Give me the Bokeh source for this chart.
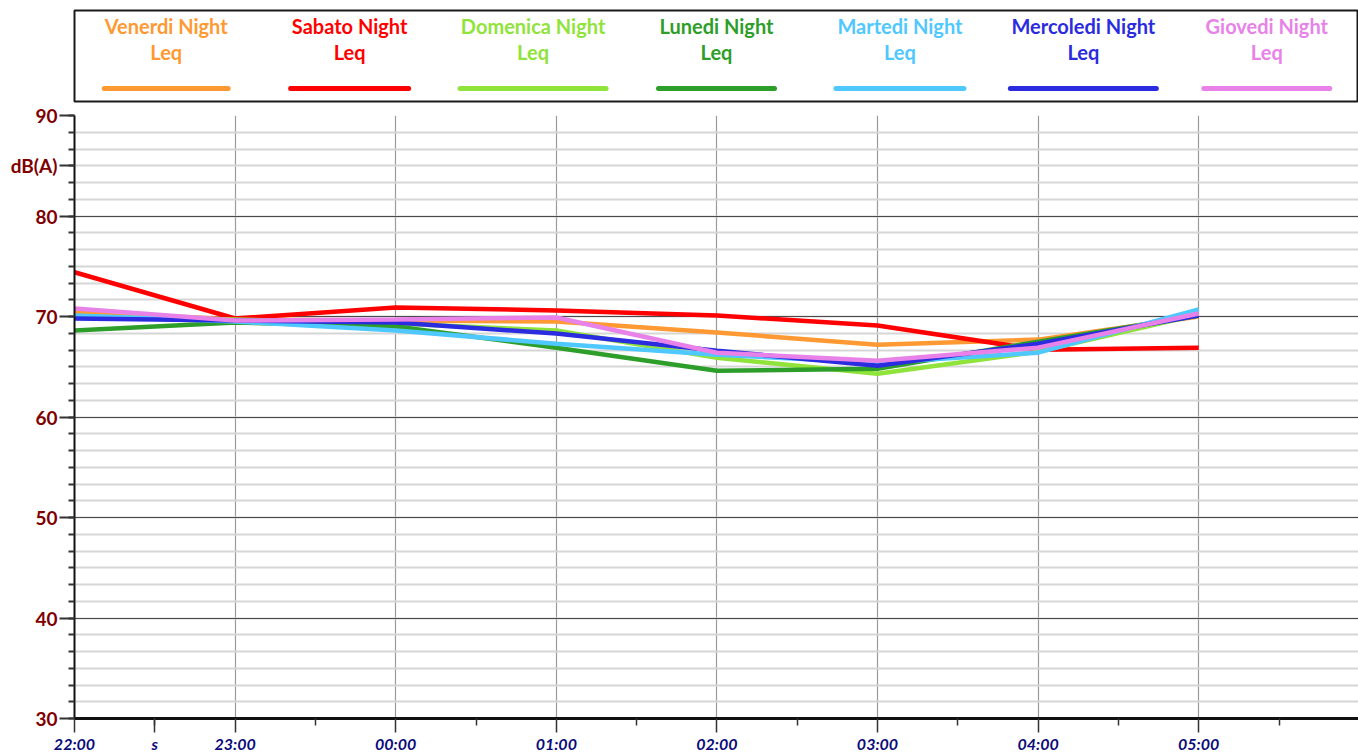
from bokeh.plotting import figure
from bokeh.models import Range1d, FixedTicker, ColumnDataSource
from bokeh.layouts import column
from bokeh.core.properties import value
from bokeh.embed import file_html
from bokeh.resources import INLINE

# ---------------- data ----------------
hours = [0, 1, 2, 3, 4, 5, 6, 7]
hour_labels = ["22:00", "23:00", "00:00", "01:00", "02:00", "03:00", "04:00", "05:00"]

series_line1 = ["Venerdi Night", "Sabato Night", "Domenica Night", "Lunedi Night",
                "Martedi Night", "Mercoledi Night", "Giovedi Night"]
series_line2 = ["Leq"] * 7

venerdi = [70.5, 69.7, 69.6, 69.5, 68.4, 67.2, 67.7, 70.0]
sabato = [74.4, 69.8, 70.9, 70.6, 70.1, 69.1, 66.7, 66.9]
domenica = [70.0, 69.7, 69.3, 68.6, 65.9, 64.3, 66.5, 70.2]
lunedi = [68.6, 69.4, 69.0, 66.9, 64.6, 64.8, 67.5, 70.1]
martedi = [70.1, 69.5, 68.6, 67.3, 66.2, 65.4, 66.4, 70.7]
mercoledi = [69.8, 69.6, 69.4, 68.3, 66.6, 65.1, 67.3, 70.1]
giovedi = [70.8, 69.6, 69.7, 69.9, 66.4, 65.6, 66.9, 70.3]

y_major = [30, 40, 50, 60, 70, 80, 90]
y_unit_pos = 85
y_unit_label = "dB(A)"
minor_x_pos = 0.5
minor_x_label = "s"

# ---------------- styles ----------------
colors = ["#ff9933", "#ff0000", "#8fe33a", "#2e9e2a", "#4fc8ff", "#2b2be0", "#e882e8"]
series = [venerdi, sabato, domenica, lunedi, martedi, mercoledi, giovedi]
legend_half_px = [62, 59, 73, 58, 64, 73, 63]

FONT_NAME = "Lato"
FONT = value(FONT_NAME)
W = 1358
LEFT = 74
FRAME_W = W - LEFT
PX_PER_HOUR = 160.6
SLOT_PX = FRAME_W / 7

# ---------------- legend figure ----------------
leg = figure(width=W, height=103, x_range=Range1d(0, 7),
             y_range=Range1d(91, 0), output_backend="svg", toolbar_location=None,
             min_border_left=LEFT, min_border_right=0, min_border_top=10,
             min_border_bottom=2)
leg.axis.visible = False
leg.grid.visible = False
leg.outline_line_color = "#1a1a1a"
leg.outline_line_width = 2
leg.background_fill_color = "white"
leg.border_fill_color = "white"

centers = [i + 0.5 for i in range(len(series_line1))]
halves = [h / SLOT_PX for h in legend_half_px]
lsrc = ColumnDataSource(dict(
    x=centers, t1=series_line1, t2=series_line2, c=colors,
    x0=[c - h for c, h in zip(centers, halves)],
    x1=[c + h for c, h in zip(centers, halves)],
    y1=[15] * 7, y2=[41] * 7, yl=[78] * 7))
for col in ("y1", "y2"):
    leg.text(x="x", y=col, text="t1" if col == "y1" else "t2", text_color="c",
             source=lsrc, text_font=FONT, text_font_style="bold",
             text_font_size="20px", text_align="center", text_baseline="middle")
leg.segment(x0="x0", y0="yl", x1="x1", y1="yl", line_color="c", line_width=5,
            line_cap="round", source=lsrc)

# ---------------- main figure ----------------
p = figure(width=W, height=652, x_range=Range1d(0, FRAME_W / PX_PER_HOUR),
           y_range=Range1d(30, 90), output_backend="svg", toolbar_location=None,
           min_border_left=LEFT, min_border_right=0, min_border_top=12,
           min_border_bottom=36)
p.outline_line_color = None
p.background_fill_color = "white"
p.border_fill_color = "white"

for vals, col in zip(series, colors):
    p.line(hours, vals, line_color=col, line_width=4.5)

y_minor = [30 + k * 10 / 6 for k in range(37)]

# y axis
p.yaxis.ticker = FixedTicker(ticks=y_major + [y_unit_pos], minor_ticks=y_minor)
p.yaxis.major_label_overrides = {y_unit_pos: y_unit_label}
p.yaxis.axis_line_color = "#111111"
p.yaxis.axis_line_width = 2
p.yaxis.major_tick_out = 15
p.yaxis.major_tick_in = 0
p.yaxis.minor_tick_out = 6
p.yaxis.minor_tick_in = 0
p.yaxis.major_tick_line_color = "#333333"
p.yaxis.major_tick_line_width = 2
p.yaxis.minor_tick_line_color = "#333333"
p.yaxis.minor_tick_line_width = 2
p.yaxis.major_label_text_font = FONT_NAME
p.yaxis.major_label_text_font_style = "bold"
p.yaxis.major_label_text_font_size = "19px"
p.yaxis.major_label_text_color = "#800000"
p.yaxis.major_label_standoff = 2

# x axis
p.xaxis.ticker = FixedTicker(ticks=hours + [minor_x_pos],
                             minor_ticks=[h + 0.5 for h in hours])
overrides = {h: l for h, l in zip(hours, hour_labels)}
overrides[minor_x_pos] = minor_x_label
p.xaxis.major_label_overrides = overrides
p.xaxis.axis_line_color = "#111111"
p.xaxis.axis_line_width = 3
p.xaxis.major_tick_out = 14
p.xaxis.major_tick_in = 0
p.xaxis.minor_tick_out = 7
p.xaxis.minor_tick_in = 0
p.xaxis.major_tick_line_color = "#333333"
p.xaxis.major_tick_line_width = 1.5
p.xaxis.minor_tick_line_color = "#333333"
p.xaxis.minor_tick_line_width = 1.5
p.xaxis.major_label_text_font = FONT_NAME
p.xaxis.major_label_text_font_style = "bold italic"
p.xaxis.major_label_text_font_size = "16px"
p.xaxis.major_label_text_color = "#0b0b7a"
p.xaxis.major_label_standoff = 1

# grids
p.ygrid.ticker = FixedTicker(ticks=y_major, minor_ticks=y_minor)
p.ygrid.grid_line_color = "#4a4a4a"
p.ygrid.grid_line_width = 1.2
p.ygrid.minor_grid_line_color = "#d6d6d6"
p.ygrid.minor_grid_line_width = 2
p.xgrid.ticker = FixedTicker(ticks=hours)
p.xgrid.grid_line_color = "#9a9a9a"
p.xgrid.grid_line_width = 1.2

layout = column(leg, p, spacing=0)
open("out.html", "w").write(file_html(layout, INLINE))
